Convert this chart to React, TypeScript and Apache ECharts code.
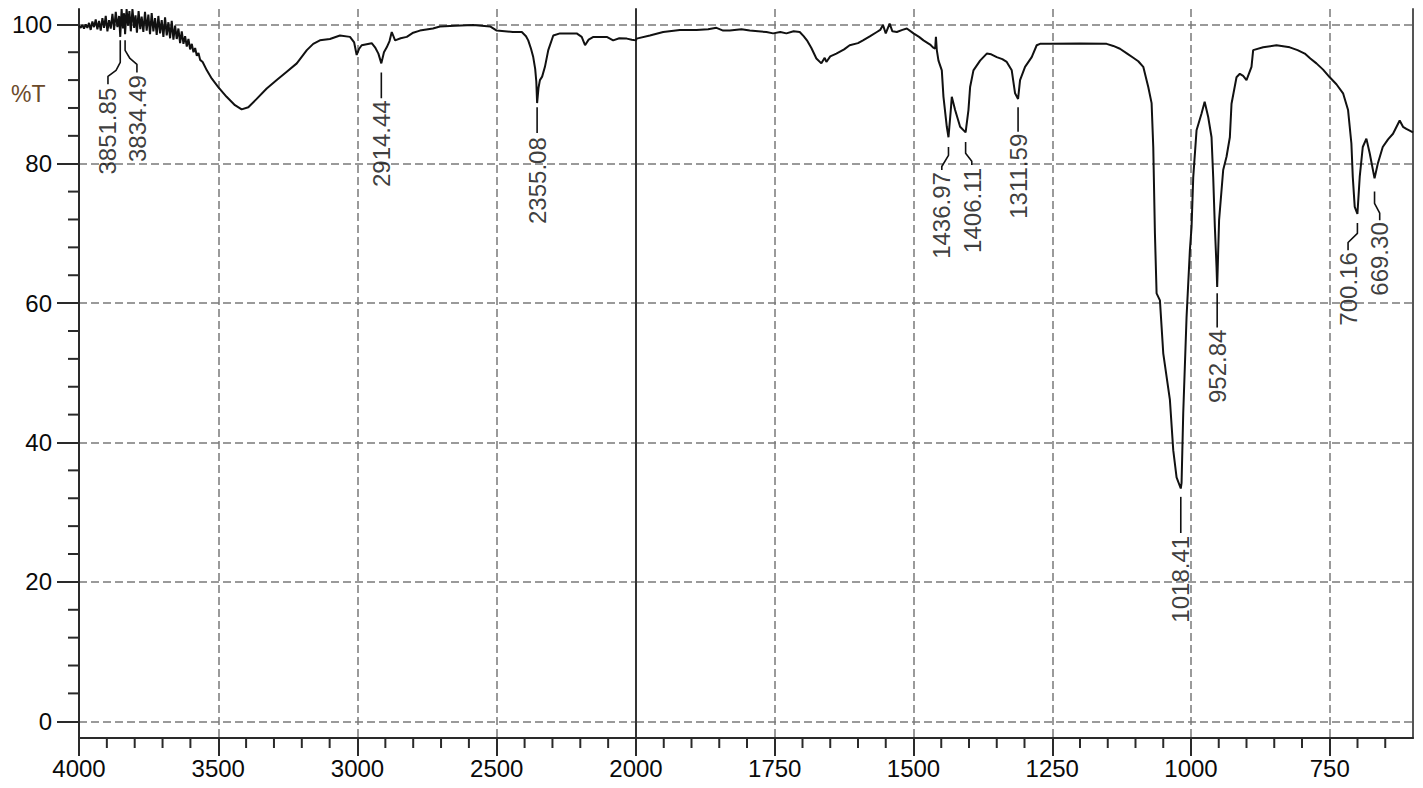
import React, { useEffect, useRef } from "react";
import * as echarts from "echarts";

const FONT = "'Liberation Sans', Arial, sans-serif";

// Axis ticks / labels
const Y_MAJOR = [0, 20, 40, 60, 80, 100];
const Y_MINOR = [4, 8, 12, 16, 24, 28, 32, 36, 44, 48, 52, 56, 64, 68, 72, 76, 84, 88, 92, 96];
const X_HIGH_MAJOR = [2000, 2500, 3000, 3500, 4000];
const X_HIGH_LABELS = [2500, 3000, 3500, 4000];
const X_HIGH_MINOR = [2100, 2200, 2300, 2400, 2600, 2700, 2800, 2900, 3100, 3200, 3300, 3400, 3600, 3700, 3800, 3900];
const X_LOW_MAJOR = [750, 1000, 1250, 1500, 1750, 2000];
const X_LOW_LABELS = [750, 1000, 1250, 1500, 1750, 2000];
const X_LOW_MINOR = [650, 700, 800, 850, 900, 950, 1050, 1100, 1150, 1200, 1300, 1350, 1400, 1450, 1550, 1600, 1650, 1700, 1800, 1850, 1900, 1950];

// Spectrum, 4000 -> 2000 cm-1 (wavenumber, %T)
const SPEC_HIGH: [number, number][] = [
  [4000, 99.8], [3994, 99.5], [3988, 99.9], [3982, 99.4], [3976, 100.0], [3970, 99.5], [3964, 100.2], [3958, 99.2],
  [3952, 100.4], [3946, 99.6], [3940, 100.7], [3934, 99.3], [3928, 100.5], [3922, 99.1], [3916, 100.9], [3910, 99.5],
  [3904, 101.2], [3898, 99.0], [3892, 100.6], [3886, 99.4], [3880, 101.5], [3874, 99.2], [3868, 101.8], [3862, 99.6],
  [3856, 101.2], [3851.85, 98.2], [3847, 102.2], [3842, 99.4], [3838, 101.6], [3834.49, 98.6], [3829, 102.2], [3824, 99.8],
  [3819, 101.9], [3814, 99.0], [3808, 102.2], [3802, 99.5], [3797, 101.3], [3792, 98.8], [3786, 101.9], [3780, 99.3],
  [3775, 101.1], [3769, 98.9], [3763, 101.8], [3757, 99.1], [3751, 101.4], [3745, 98.6], [3739, 101.6], [3733, 99.0],
  [3727, 100.9], [3721, 98.5], [3715, 101.2], [3709, 98.7], [3703, 100.6], [3697, 98.2], [3691, 101.0], [3685, 98.4],
  [3679, 100.3], [3673, 98.0], [3667, 100.5], [3661, 97.8], [3655, 99.8], [3649, 97.9], [3643, 99.4], [3637, 97.3],
  [3631, 99.0], [3625, 97.2], [3619, 98.3], [3613, 96.8], [3607, 97.9], [3601, 96.4], [3595, 97.2], [3589, 96.0],
  [3583, 96.6], [3577, 95.5], [3571, 95.9], [3565, 94.9], [3556, 94.6], [3541, 93.4], [3523, 92.2], [3500, 91.0],
  [3470, 89.6], [3440, 88.4], [3416, 87.8], [3392, 88.1], [3362, 89.3], [3326, 90.8], [3290, 92.0], [3254, 93.2],
  [3218, 94.4], [3182, 96.3], [3159, 97.2], [3135, 97.7], [3099, 97.9], [3063, 98.4], [3027, 98.2], [3012, 97.4],
  [3003, 95.6], [2994, 96.5], [2985, 97.0], [2949, 97.3], [2937, 96.7], [2925, 95.8], [2914.44, 94.4], [2905, 96.0],
  [2895, 96.7], [2885, 97.6], [2877, 98.9], [2865, 97.7], [2845, 98.0], [2823, 98.2], [2800, 98.8], [2776, 99.1],
  [2729, 99.4], [2704, 99.7], [2650, 99.8], [2585, 99.9], [2524, 99.7], [2500, 99.1], [2442, 98.9], [2410, 98.9],
  [2395, 98.3], [2387, 97.7], [2377, 96.5], [2369, 95.3], [2362, 93.6], [2358, 91.8], [2355.08, 88.7], [2350, 90.9],
  [2345, 92.0], [2337, 92.5], [2327, 93.9], [2315, 96.3], [2297, 98.4], [2273, 98.7], [2213, 98.7], [2195, 98.2],
  [2183, 97.0], [2170, 97.8], [2153, 98.2], [2105, 98.2], [2082, 97.7], [2060, 98.0], [2033, 97.95], [2015, 97.8],
  [2000, 97.7],
];

// Spectrum, 2000 -> 600 cm-1 (wavenumber, %T)
const SPEC_LOW: [number, number][] = [
  [2000, 97.7], [1999, 97.95], [1975, 98.4], [1951, 98.9], [1921, 99.2], [1891, 99.2], [1870, 99.3], [1855, 99.5],
  [1843, 99.1], [1831, 99.1], [1810, 99.3], [1795, 99.1], [1780, 99.0], [1765, 98.9], [1753, 98.7], [1740, 98.9],
  [1729, 98.7], [1716, 99.0], [1705, 98.9], [1698, 98.3], [1692, 97.7], [1684, 96.6], [1675, 95.1], [1666, 94.4],
  [1660, 95.2], [1657, 94.6], [1650, 95.4], [1639, 95.8], [1625, 96.4], [1615, 97.0], [1600, 97.3], [1591, 97.7],
  [1578, 98.3], [1566, 98.9], [1560, 99.2], [1555, 99.9], [1550, 98.7], [1543, 100.1], [1538, 99.0], [1530, 98.9],
  [1520, 99.2], [1512, 99.4], [1500, 98.7], [1490, 98.2], [1482, 97.7], [1470, 97.1], [1465, 96.7], [1461, 96.5],
  [1459.6, 98.2], [1458, 96.3], [1455, 94.8], [1449, 93.4], [1446, 89.6], [1440, 85.3], [1436.97, 83.8], [1433, 87.5],
  [1431, 89.6], [1425, 87.7], [1416, 85.3], [1406.11, 84.5], [1401, 87.7], [1398, 91.0], [1392, 93.4], [1380, 94.8],
  [1368, 95.8], [1360, 95.7], [1350, 95.3], [1340, 95.0], [1332, 94.6], [1323, 93.4], [1317, 90.1], [1311.59, 89.3],
  [1308, 92.0], [1299, 93.9], [1287, 95.3], [1278, 97.0], [1272, 97.2], [1254, 97.2], [1200, 97.25], [1152, 97.2],
  [1140, 96.9], [1128, 96.5], [1115, 95.8], [1104, 95.2], [1095, 94.7], [1086, 93.9], [1077, 91.0], [1071, 88.7],
  [1068, 82.4], [1065, 70.0], [1062, 61.4], [1056, 60.4], [1050, 52.8], [1038, 46.1], [1032, 38.9], [1026, 35.0],
  [1018.41, 33.4], [1017, 34.2], [1014, 44.2], [1008, 58.0], [1002, 67.6], [999, 70.9], [996, 78.0], [990, 84.8],
  [981, 87.2], [975.4, 88.9], [969, 86.7], [963, 83.8], [960, 78.1], [957, 70.9], [954, 65.2], [952.84, 62.3],
  [949.4, 71.9], [942, 79.1], [936, 81.0], [930, 83.8], [927, 88.6], [918, 92.4], [912, 92.9], [906, 92.6],
  [900, 92.0], [891, 93.9], [888, 96.3], [870, 96.7], [846, 97.0], [822, 96.7], [808, 96.3], [795, 95.8],
  [785, 95.1], [774, 94.4], [762, 93.5], [750, 92.4], [738, 91.4], [726, 90.1], [717, 87.7], [711, 82.9],
  [708.5, 78.1], [705, 73.8], [700.16, 72.8], [696, 78.1], [690.5, 82.4], [684, 83.6], [678, 81.5], [669.3, 77.9],
  [663.5, 80.0], [654.5, 82.4], [645, 83.5], [636, 84.3], [624, 86.2], [618, 85.3], [612, 85.0], [600, 84.5],
];

// Peak labels: text, anchor (top end of the rotated text), leader line points
const PEAK_NAMES_HIGH = ["3851.85", "3834.49", "2914.44", "2355.08"];
const PEAK_ANCHORS_HIGH: [number, number][] = [[3897, 90.9], [3790, 92.7], [2914.44, 89.1], [2355.08, 83.8]];
const LEADERS_HIGH: [number, number][][] = [
  [[3851.85, 97.7], [3851.85, 94.55], [3867, 93.4], [3896, 92.54], [3896, 91.4]],
  [[3834.49, 97.7], [3834.49, 96.27], [3817, 95.1], [3792, 94.26], [3792, 93.1]],
  [[2914.44, 93.1], [2914.44, 89.4]],
  [[2355.08, 88.1], [2355.08, 84.4]],
];

const PEAK_NAMES_LOW = ["1436.97", "1406.11", "1311.59", "1018.41", "952.84", "700.16", "669.30"];
const PEAK_ANCHORS_LOW: [number, number][] = [
  [1449, 78.8], [1394, 79.4], [1311.59, 84.3], [1018.41, 26.6], [952.84, 56.2], [716, 67.3], [660, 71.6],
];
const LEADERS_LOW: [number, number][][] = [
  [[1436.97, 82.4], [1436.97, 81.2], [1449, 79.6], [1449, 79.1]],
  [[1406.11, 83.1], [1406.11, 81.5], [1395, 80.35], [1395, 79.8]],
  [[1311.59, 88.1], [1311.59, 84.6]],
  [[1018.41, 32.2], [1018.41, 27.0]],
  [[952.84, 61.4], [952.84, 56.5]],
  [[700.16, 71.5], [700.16, 70.0], [717, 68.7], [717, 67.6]],
  [[669.3, 76.0], [669.3, 74.3], [660, 72.9], [660, 71.9]],
];

const Y_MIN = -2.4;
const Y_MAX = 102.2;

const AXIS_COLOR = "#2a2a2a";
const GRID_COLOR = "#7a7a7a";
const TEXT_COLOR = "#0a0a0a";

const dashed = { show: true, lineStyle: { type: [8, 4] as any, color: GRID_COLOR, width: 1.5 } };
const plain = (v: number) => String(v);

// Minor ticks drawn by a custom series, positioned through the axes' own scales
function minorTicks(values: number[], along: "x" | "y", fixed: number, len: number, xi: number, yi: number) {
  return {
    type: "custom",
    xAxisIndex: xi,
    yAxisIndex: yi,
    silent: true,
    clip: false,
    z: 6,
    data: values.map((v) => (along === "x" ? [v, fixed] : [fixed, v])),
    renderItem: (_params: any, api: any) => {
      const p = api.coord([api.value(0), api.value(1)]);
      const shape =
        along === "x"
          ? { x1: p[0], y1: p[1], x2: p[0], y2: p[1] + len }
          : { x1: p[0] - len, y1: p[1], x2: p[0], y2: p[1] };
      return { type: "line", shape, style: { stroke: AXIS_COLOR, lineWidth: 2 } };
    },
  };
}

function labelSeries(names: string[], anchors: [number, number][], xi: number, yi: number) {
  return {
    type: "scatter",
    xAxisIndex: xi,
    yAxisIndex: yi,
    symbol: "circle",
    symbolSize: 1,
    itemStyle: { color: "rgba(0,0,0,0)" },
    silent: true,
    z: 5,
    data: names.map((n, i) => ({ name: n, value: anchors[i] })),
    label: {
      show: true,
      formatter: "{b}",
      position: "inside",
      rotate: 90,
      align: "right",
      verticalAlign: "middle",
      fontSize: 24,
      fontFamily: FONT,
      color: TEXT_COLOR,
    },
  };
}

function leaderSeries(leaders: [number, number][][], xi: number, yi: number) {
  return leaders.map((pts) => ({
    type: "line",
    xAxisIndex: xi,
    yAxisIndex: yi,
    data: pts,
    symbol: "none",
    showSymbol: false,
    silent: true,
    z: 4,
    lineStyle: { color: "#111", width: 1.6 },
  }));
}

export default function App() {
  const ref = useRef<HTMLDivElement>(null);
  useEffect(() => {
    const chart = echarts.init(ref.current!, null, { renderer: "svg" });
    const yBase = { type: "value", min: Y_MIN, max: Y_MAX };
    const option: any = {
      animation: false,
      backgroundColor: "#fff",
      grid: [
        { left: 79, top: 9, width: 557, height: 729 },
        { left: 636, top: 9, width: 777, height: 729 },
      ],
      xAxis: [
        {
          gridIndex: 0, type: "value", min: 2000, max: 4000, inverse: true, position: "bottom",
          axisLine: { show: true, onZero: false, lineStyle: { color: AXIS_COLOR, width: 2 } },
          axisTick: { show: true, customValues: X_HIGH_MAJOR, length: 18, lineStyle: { color: AXIS_COLOR, width: 2 } },
          axisLabel: { show: true, customValues: X_HIGH_LABELS, formatter: plain, fontSize: 24, fontFamily: FONT, color: TEXT_COLOR, margin: 18 },
          splitLine: dashed,
        },
        {
          gridIndex: 1, type: "value", min: 600, max: 2000, inverse: true, position: "bottom",
          axisLine: { show: true, onZero: false, lineStyle: { color: AXIS_COLOR, width: 2 } },
          axisTick: { show: true, customValues: X_LOW_MAJOR, length: 18, lineStyle: { color: AXIS_COLOR, width: 2 } },
          axisLabel: { show: true, customValues: X_LOW_LABELS, formatter: plain, fontSize: 24, fontFamily: FONT, color: TEXT_COLOR, margin: 18 },
          splitLine: dashed,
        },
      ],
      yAxis: [
        {
          ...yBase, gridIndex: 0, position: "left",
          axisLine: { show: true, onZero: false, lineStyle: { color: AXIS_COLOR, width: 2 } },
          axisTick: { show: true, customValues: Y_MAJOR, length: 22, lineStyle: { color: AXIS_COLOR, width: 2 } },
          axisLabel: { show: true, customValues: Y_MAJOR, formatter: plain, fontSize: 24, fontFamily: FONT, color: TEXT_COLOR, margin: 27 },
          splitLine: dashed,
        },
        {
          ...yBase, gridIndex: 1, position: "left",
          axisLine: { show: true, onZero: false, lineStyle: { color: "#333", width: 2 } },
          axisTick: { show: false, customValues: Y_MAJOR },
          axisLabel: { show: false },
          splitLine: dashed,
        },
        {
          ...yBase, gridIndex: 1, position: "right",
          axisLine: { show: true, onZero: false, lineStyle: { color: "#555", width: 2 } },
          axisTick: { show: false },
          axisLabel: { show: false },
          splitLine: { show: false },
        },
      ],
      graphic: [
        {
          type: "text", left: 11, top: 82,
          style: { text: "%T", fontSize: 23, fontFamily: FONT, fill: "#6b4a2a" },
        },
      ],
      series: [
        {
          type: "line", xAxisIndex: 0, yAxisIndex: 0, data: SPEC_HIGH, symbol: "none", showSymbol: false,
          lineStyle: { color: "#111", width: 2 }, z: 3,
        },
        {
          type: "line", xAxisIndex: 1, yAxisIndex: 1, data: SPEC_LOW, symbol: "none", showSymbol: false,
          lineStyle: { color: "#111", width: 2 }, z: 3,
        },
        ...leaderSeries(LEADERS_HIGH, 0, 0),
        ...leaderSeries(LEADERS_LOW, 1, 1),
        labelSeries(PEAK_NAMES_HIGH, PEAK_ANCHORS_HIGH, 0, 0),
        labelSeries(PEAK_NAMES_LOW, PEAK_ANCHORS_LOW, 1, 1),
        minorTicks(X_HIGH_MINOR, "x", Y_MIN, 10, 0, 0),
        minorTicks(X_LOW_MINOR, "x", Y_MIN, 10, 1, 1),
        minorTicks(Y_MINOR, "y", 4000, 11, 0, 0),
      ],
    };
    chart.setOption(option);
    return () => chart.dispose();
  }, []);
  return (
    <div
      ref={ref}
      style={{ position: "absolute", left: 0, top: 0, width: 1423, height: 788, background: "#fff" }}
    />
  );
}
